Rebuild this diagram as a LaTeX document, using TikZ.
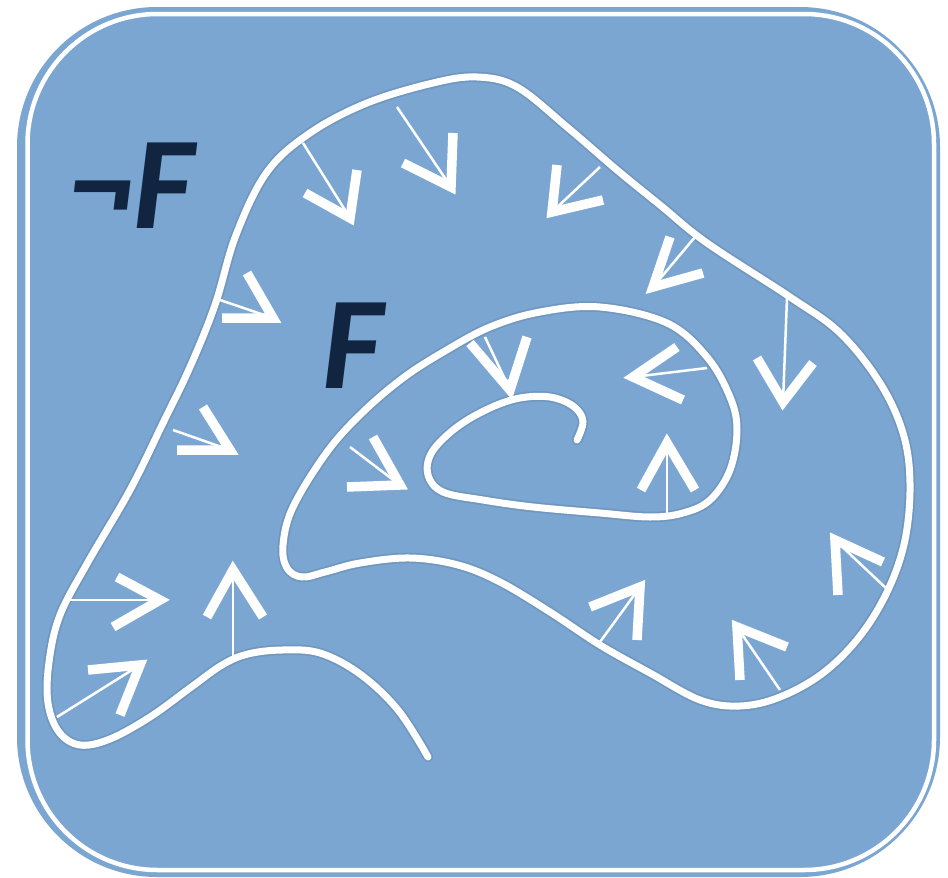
\documentclass[tikz,border=0pt]{standalone}
\usepackage{fontspec}
\setmainfont{Carlito}
\definecolor{bgblue}{HTML}{7BA6D2}
\definecolor{navy}{HTML}{112540}
\tikzset{
  curvehalo/.style={draw=bgblue!75!black, opacity=0.35, line width=10.5pt, line cap=round, line join=round},
  curveline/.style={draw=white, line width=7pt, line cap=round, line join=round},
  stemline/.style={draw=white, line width=2.5pt},
  headline/.style={draw=white, line width=9.5pt, line join=miter, line cap=butt},
  lbl/.style={anchor=base west, inner sep=0pt, text=navy, font=\fontsize{132}{132}\selectfont\bfseries\itshape}
}
\newcommand\myarrow[4]{\draw[stemline] (#1) -- (#2); \draw[headline] (#3) -- (#2) -- (#4);}
\begin{document}
\begin{tikzpicture}[x=1pt,y=-1pt]
\useasboundingbox (0,0) rectangle (948,878);
\fill[white] (0,0) rectangle (948,878);
\fill[bgblue, rounded corners=140pt] (17,7) rectangle (940,877);
\draw[white, line width=4.5pt, rounded corners=130pt] (27.5,14) rectangle (934,870);

\def\mainpath{plot[smooth, tension=0.6] coordinates {
(428,757) (398,710) (360,674) (320,653) (282,650) (248,654) (222,665)
(190,688) (150,717) (110,739) (80,745) (59,732) (48,703) (49,662)
(60,615) (88,562) (130,490) (163,423) (190,367) (215,305)
(236,235) (267,172) (310,133) (367,103) (433,83) (477,77) (517,87)
(567,127) (617,170) (660,205) (707,243) (790,297) (840,333) (880,383)
(903,433) (910,483) (905,540) (888,590) (860,636) (823,673) (780,697)
(740,706) (700,700) (650,673) (600,645) (550,612) (500,582)
(458,565) (410,558) (360,563) (325,572) (302,577) (287,568) (283,545) (293,507)
(327,452) (362,413) (403,378) (445,351) (490,327) (540,312) (600,307)
(667,323) (707,357) (730,397) (737,430) (730,470) (710,500) (683,513)
(650,517) (600,513) (533,507) (483,500) (443,492) (428,475) (432,452)
(457,427) (490,408) (520,398) (550,397) (573,406) (583,421) (577,440)}}
\draw[curvehalo] \mainpath;
\draw[curveline] \mainpath;

\myarrow{303,143}{350,218}{305,193}{357,170}
\myarrow{397,107}{451,187}{403,163}{453,133}
\myarrow{600,167}{552,212}{557,165}{603,200}
\myarrow{695,237}{653,287}{670,237}{703,273}
\myarrow{787,298}{783,402}{757,358}{813,363}
\myarrow{888,590}{835,540}{838,595}{883,562}
\myarrow{780,690}{737,627}{740,680}{787,647}
\myarrow{600,642}{640,587}{590,607}{637,640}
\myarrow{667,517}{667,443}{641,490}{695,490}
\myarrow{707,368}{633,377}{677,347}{683,400}
\myarrow{485,337}{510,390}{470,343}{527,337}
\myarrow{350,447}{400,485}{373,437}{347,487}
\myarrow{220,300}{273,318}{247,273}{222,318}
\myarrow{173,430}{230,450}{203,407}{177,450}
\myarrow{70,600}{160,600}{117,577}{113,627}
\myarrow{233,656}{233,570}{207,617}{263,617}
\myarrow{57,717}{140,665}{88,670}{120,715}

\node[lbl] (notF) at (68,228) {¬F};
\node[lbl] (F) at (322,388) {F};
\end{tikzpicture}
\end{document}
